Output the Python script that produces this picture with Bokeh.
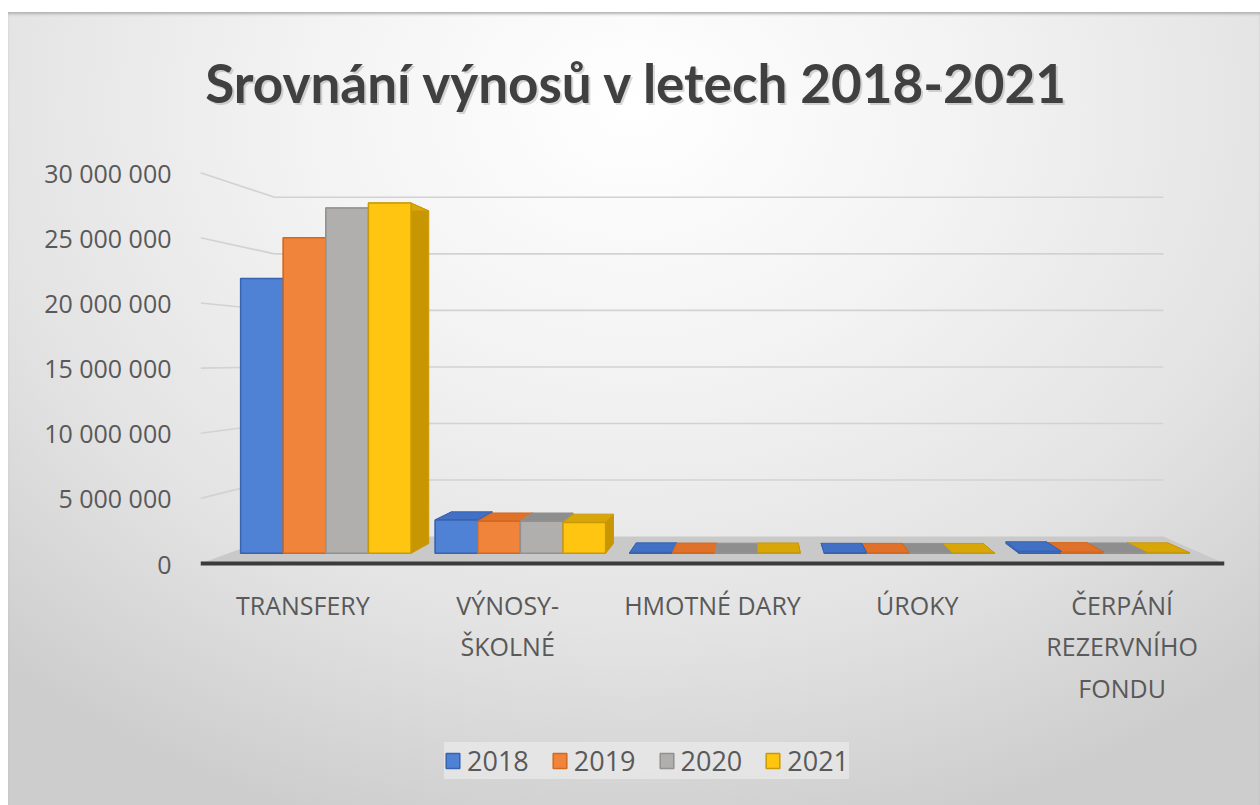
from bokeh.plotting import figure
from bokeh.models import Range1d, FixedTicker, Legend, LegendItem, ColumnDataSource, Label
from bokeh.embed import file_html
from bokeh.resources import INLINE

# ---------------- data ----------------
TITLE = "Srovnání výnosů v letech 2018-2021"
CATEGORIES = ["TRANSFERY", "VÝNOSY-ŠKOLNÉ", "HMOTNÉ DARY", "ÚROKY", "ČERPÁNÍ REZERVNÍHO FONDU"]
CATEGORY_LABELS = ["TRANSFERY", "VÝNOSY-\nŠKOLNÉ", "HMOTNÉ DARY", "ÚROKY", "ČERPÁNÍ\nREZERVNÍHO\nFONDU"]
YEARS = ["2018", "2019", "2020", "2021"]
V2018 = [22200000, 2700000, 60000, 20000, 150000]
V2019 = [25500000, 2600000, 40000, 15000, 80000]
V2020 = [27900000, 2600000, 30000, 10000, 50000]
V2021 = [28300000, 2500000, 50000, 8000, 60000]
SERIES = [V2018, V2019, V2020, V2021]
Y_TICKS = [0, 5000000, 10000000, 15000000, 20000000, 25000000, 30000000]

# ---------------- style ----------------
FRONT = ["#4f81d4", "#f0843a", "#b1afae", "#ffc511"]
SIDE = ["#3a66b5", "#c9621f", "#8f8f8f", "#c79600"]
TOP = ["#4170c4", "#e0712a", "#8e8e8e", "#d9a60a"]
EDGE = ["#3763b0", "#d2691e", "#919191", "#c89a06"]
TEXT = "#595959"
FONT = "Open Sans"

# simple perspective (vanishing point in data space)
VX, VY = 2.24, 15.66e6
S_FRONT, S_BACK, S_WALL = 0.95, 0.902, 0.868
BAR_W = 0.219

# the plot frame spans the whole chart area; value 0 sits 242 px above the bottom
Y_LO, Y_HI = -18.57e6, 42.29e6


def proj(x, y, s):
    return VX + (x - VX) * s, VY + (y - VY) * s


p = figure(width=1252, height=793,
           x_range=Range1d(-0.5, 4.5), y_range=Range1d(Y_LO, Y_HI),
           output_backend="svg", toolbar_location=None,
           min_border_left=192, min_border_right=36,
           min_border_top=0, min_border_bottom=0,
           margin=(12, 0, 0, 8),
           styles={"background": "radial-gradient(ellipse 75% 95% at 50% 12%, #ffffff 0%, #f3f3f3 35%, #e3e3e3 70%, #cdcdcd 100%)",
                   "box-shadow": "inset 0 3px 3px -1px #b0b0b0"})
p.background_fill_alpha = 0
p.border_fill_alpha = 0
p.outline_line_color = None
p.xgrid.visible = False
p.ygrid.visible = False

# floor
fl = [(-0.5, 0), (4.5, 0), proj(4.5, 0, S_WALL), proj(-0.5, 0, S_WALL)]
p.patch([a for a, b in fl], [b for a, b in fl], fill_color="#c9c9c9", line_color=None)

# back wall grid lines
gx, gy = [], []
for t in Y_TICKS[1:]:
    lx, ly = proj(-0.5, t, S_WALL)
    rx, _ = proj(4.5, t, S_WALL)
    gx.append([-0.5, lx, rx])
    gy.append([t, ly, ly])
p.multi_line(gx, gy, line_color="#d2d2d2", line_width=1.6)

# bars: side/top faces first, then front faces
bars = []
for j, vals in enumerate(SERIES):
    for i, v in enumerate(vals):
        x0 = i + (j - 1.5) * BAR_W - BAR_W / 2
        x1 = x0 + BAR_W
        fx0, fy0 = proj(x0, 0, S_FRONT)
        fx1, fy1 = proj(x1, v, S_FRONT)
        bx0, by0 = proj(x0, 0, S_BACK)
        bx1, by1 = proj(x1, v, S_BACK)
        bars.append(dict(j=j, fx0=fx0, fx1=fx1, fy0=fy0, fy1=fy1,
                         bx0=bx0, bx1=bx1, by0=by0, by1=by1))

bars.sort(key=lambda b: -abs((b["fx0"] + b["fx1"]) / 2 - VX))
pxs, pys, pfill, pline = [], [], [], []
for b in bars:
    j = b["j"]
    faces = [
        ([b["fx0"], b["fx0"], b["bx0"], b["bx0"]], [b["fy0"], b["fy1"], b["by1"], b["by0"]], SIDE[j]),
        ([b["fx1"], b["fx1"], b["bx1"], b["bx1"]], [b["fy0"], b["fy1"], b["by1"], b["by0"]], SIDE[j]),
        ([b["fx0"], b["fx1"], b["bx1"], b["bx0"]], [b["fy1"], b["fy1"], b["by1"], b["by1"]], TOP[j]),
    ]
    for xs, ys, c in faces:
        pxs.append(xs)
        pys.append(ys)
        pfill.append(c)
        pline.append(EDGE[j])
p.patches("xs", "ys", source=ColumnDataSource(dict(xs=pxs, ys=pys, fill=pfill, line=pline)),
          fill_color="fill", line_color="line", line_width=1)

renderers = []
for j, vals in enumerate(SERIES):
    sel = [b for b in bars if b["j"] == j]
    src = ColumnDataSource(dict(left=[b["fx0"] for b in sel], right=[b["fx1"] for b in sel],
                                bottom=[b["fy0"] for b in sel], top=[b["fy1"] for b in sel]))
    r = p.quad(left="left", right="right", bottom="bottom", top="top", source=src,
               fill_color=FRONT[j], line_color=EDGE[j], line_width=1.5)
    renderers.append(r)

# axes
p.xaxis.fixed_location = 0
p.xaxis.ticker = FixedTicker(ticks=list(range(len(CATEGORIES))))
p.xaxis.major_label_overrides = {i: lab for i, lab in enumerate(CATEGORY_LABELS)}
p.xaxis.axis_line_width = 4
p.xaxis.axis_line_color = "#3b3b3b"
p.xaxis.major_tick_line_color = None
p.xaxis.minor_tick_line_color = None
p.xaxis.major_label_text_font = FONT
p.xaxis.major_label_text_font_size = "25px"
p.xaxis.major_label_text_color = TEXT
p.xaxis.major_label_standoff = 18
p.xaxis.major_label_text_line_height = 1.23

p.yaxis.ticker = FixedTicker(ticks=Y_TICKS)
p.yaxis.major_label_overrides = {t: f"{t:,}".replace(",", " ") for t in Y_TICKS}
p.yaxis.axis_line_color = None
p.yaxis.major_tick_line_color = None
p.yaxis.minor_tick_line_color = None
p.yaxis.major_label_text_font = FONT
p.yaxis.major_label_text_font_size = "25px"
p.yaxis.major_label_text_color = TEXT
p.yaxis.major_label_standoff = 23

# title (with faint shadow), positioned in screen pixels inside the frame
for dx, dy, col, alpha in [(2, -2, "#000000", 0.15), (0, 0, "#404040", 1.0)]:
    p.add_layout(Label(x=437 + dx, y=723 + dy, x_units="screen", y_units="screen", text=TITLE,
                       text_align="center", text_baseline="alphabetic",
                       text_font="Lato", text_font_style="bold",
                       text_font_size="53px", text_color=col, text_alpha=alpha))

legend = Legend(items=[LegendItem(label=y, renderers=[r]) for y, r in zip(YEARS, renderers)],
                orientation="horizontal", location=(244, 26),
                glyph_width=17, glyph_height=19, label_standoff=6, spacing=22,
                padding=8, margin=0,
                background_fill_color="#eeeeee", background_fill_alpha=0.6,
                border_line_color=None,
                label_text_font=FONT, label_text_font_size="27px", label_text_color=TEXT)
p.add_layout(legend)

open("out.html", "w").write(file_html(p, INLINE))
